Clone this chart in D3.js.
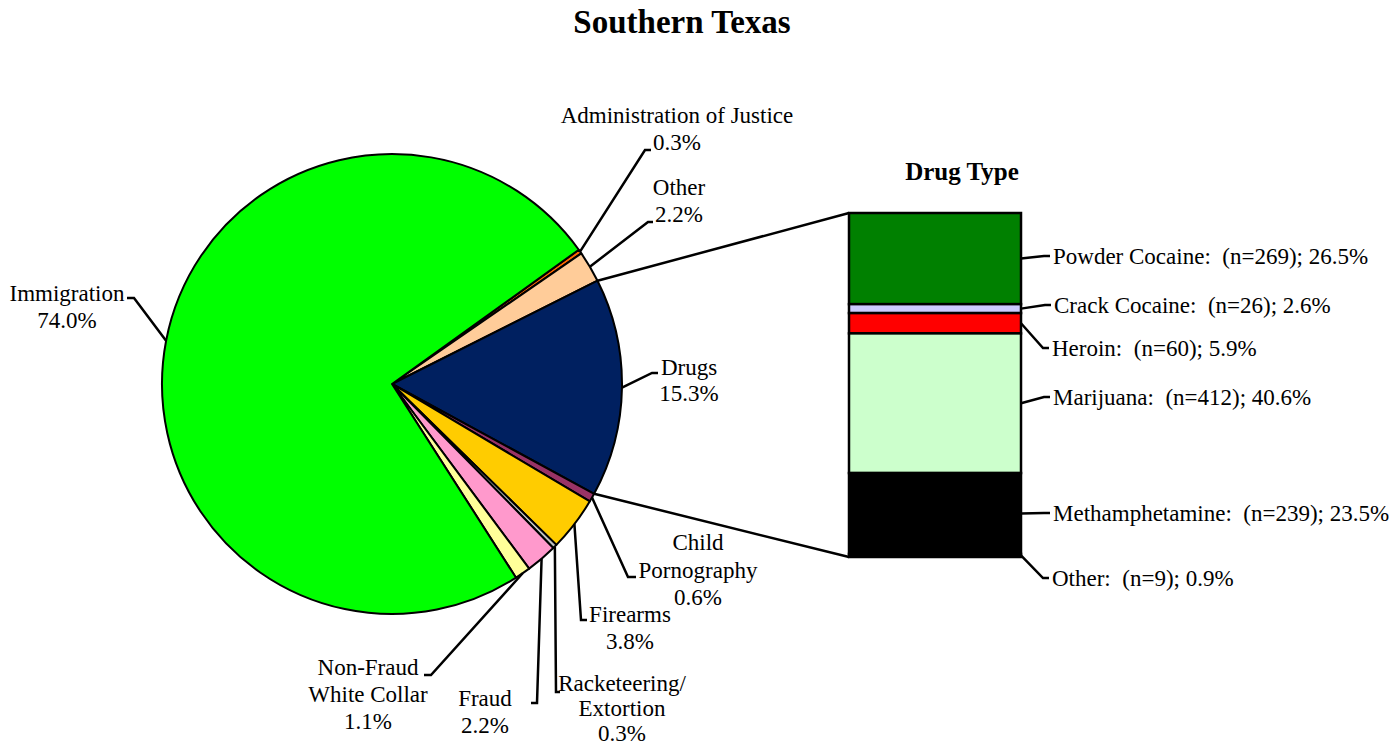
<!DOCTYPE html>
<html>
<head>
<meta charset="utf-8">
<script src="https://cdn.jsdelivr.net/npm/d3@7"></script>
<style>
  body { margin: 0; background: #fff; }
  text { font-family: "Liberation Serif", "Times New Roman", serif; white-space: pre; }
</style>
</head>
<body>
<div id="chart"></div>
<script>
/* ------------------------- Data ------------------------- */
var offenses = ["Administration of Justice", "Other", "Drugs", "Child Pornography",
                "Firearms", "Racketeering/Extortion", "Fraud", "Non-Fraud White Collar", "Immigration"];
var offensePct = [0.3, 2.2, 15.3, 0.6, 3.8, 0.3, 2.2, 1.1, 74.0];
var offenseLines = [["Administration of Justice"], ["Other"], ["Drugs"], ["Child", "Pornography"],
                    ["Firearms"], ["Racketeering/", "Extortion"], ["Fraud"], ["Non-Fraud", "White Collar"], ["Immigration"]];
var offenseColors = ["#FF6600", "#FFCC99", "#002060", "#993366", "#FFCC00", "#C0C0C0", "#FF99CC", "#FFFF99", "#00FF00"];

var drugs = ["Powder Cocaine", "Crack Cocaine", "Heroin", "Marijuana", "Methamphetamine", "Other"];
var drugCounts = [269, 26, 60, 412, 239, 9];
var drugPct = [26.5, 2.6, 5.9, 40.6, 23.5, 0.9];
var drugColors = ["#008000", "#CCCCFF", "#FF0000", "#CCFFCC", "#000000", "#000000"];

/* ------------------------- Layout ------------------------- */
var width = 1394, height = 749,
    cx = 392, cy = 384, radius = 230,
    startDeg = 54.3,
    fontSize = 23;

/* label elbows: [elbowX, elbowY, tickX, textCenterX, firstLineY, lineGap] */
var pieLabelPos = [
    [645, 150, 651, 677, 115, 27],
    [648, 222, 653, 679, 187, 27],
    [652, 373, 658, 689, 367, 26],
    [628, 577, 636, 698, 542, 27.5],
    [581, 620, 587, 630, 614, 27],
    [556, 692, 560, 622, 683, 25],
    [537, 703, 531, 485, 698, 27],
    [431, 675, 424, 368, 667, 27],
    [134, 298, 127, 67, 293, 27]
];

var svg = d3.select("#chart").append("svg")
    .attr("width", width)
    .attr("height", height);

/* Title */
svg.append("text")
    .attr("x", 682).attr("y", 33)
    .attr("text-anchor", "middle")
    .attr("font-size", 33)
    .attr("font-weight", "bold")
    .text("Southern Texas");

/* ------------------------- Pie ------------------------- */
var pie = d3.pie().sort(null)
    .startAngle(startDeg * Math.PI / 180)
    .endAngle(startDeg * Math.PI / 180 + 2 * Math.PI);
var arcs = pie(offensePct);
var arc = d3.arc().innerRadius(0).outerRadius(radius);

var g = svg.append("g").attr("transform", "translate(" + cx + "," + cy + ")");

g.selectAll("path.slice")
    .data(arcs)
    .enter().append("path")
    .attr("class", "slice")
    .attr("d", arc)
    .attr("fill", function(d, i) { return offenseColors[i]; })
    .attr("stroke", "#000")
    .attr("stroke-width", 2)
    .attr("stroke-linejoin", "round");

function onArc(a, r) {
    return [cx + r * Math.sin(a), cy - r * Math.cos(a)];
}

/* Leader lines for pie */
var lbl = svg.append("g");
arcs.forEach(function(d, i) {
    var mid = (d.startAngle + d.endAngle) / 2,
        p = onArc(mid, radius),
        pos = pieLabelPos[i];
    lbl.append("polyline")
        .attr("points", [p, [pos[0], pos[1]], [pos[2], pos[1]]].map(function(q) { return q.join(","); }).join(" "))
        .attr("fill", "none")
        .attr("stroke", "#000")
        .attr("stroke-width", 2.5);
    var lines = offenseLines[i].concat([offensePct[i].toFixed(1) + "%"]);
    lines.forEach(function(t, j) {
        lbl.append("text")
            .attr("x", pos[3])
            .attr("y", pos[4] + j * pos[5])
            .attr("dy", "0.35em")
            .attr("text-anchor", "middle")
            .attr("font-size", fontSize)
            .text(t);
    });
});

/* ------------------------- Drug bar ------------------------- */
var barX = 849, barW = 172;
var cum = [0];
drugPct.forEach(function(v, i) { cum.push(cum[i] + v); });
var y = d3.scaleLinear().domain([0, d3.sum(drugPct)]).range([213, 557]);

/* Connector lines between the drugs slice and the bar */
var drugArc = arcs[2];
var pTop = onArc(drugArc.startAngle, radius),
    pBot = onArc(drugArc.endAngle, radius);
svg.append("line")
    .attr("x1", pTop[0]).attr("y1", pTop[1])
    .attr("x2", barX).attr("y2", y(0))
    .attr("stroke", "#000").attr("stroke-width", 2.5);
svg.append("line")
    .attr("x1", pBot[0]).attr("y1", pBot[1])
    .attr("x2", barX).attr("y2", y(d3.sum(drugPct)))
    .attr("stroke", "#000").attr("stroke-width", 2.5);

svg.append("g").selectAll("rect")
    .data(drugPct)
    .enter().append("rect")
    .attr("x", barX)
    .attr("y", function(d, i) { return y(cum[i]); })
    .attr("width", barW)
    .attr("height", function(d, i) { return y(cum[i + 1]) - y(cum[i]); })
    .attr("fill", function(d, i) { return drugColors[i]; })
    .attr("stroke", "#000")
    .attr("stroke-width", 2.5);

svg.append("text")
    .attr("x", 962).attr("y", 180)
    .attr("text-anchor", "middle")
    .attr("font-size", 25)
    .attr("font-weight", "bold")
    .text("Drug Type");

/* Drug labels: [elbowX, elbowY] */
var drugLabelPos = [[1044, 256], [1045, 305], [1043, 348], [1044, 397], [1044, 513], [1043, 578]];
var dl = svg.append("g");
drugPct.forEach(function(v, i) {
    var ym = (y(cum[i]) + y(cum[i + 1])) / 2,
        pos = drugLabelPos[i];
    dl.append("polyline")
        .attr("points", [[barX + barW, ym], pos, [pos[0] + 6, pos[1]]].map(function(q) { return q.join(","); }).join(" "))
        .attr("fill", "none")
        .attr("stroke", "#000")
        .attr("stroke-width", 2.5);
    dl.append("text")
        .attr("x", pos[0] + 9)
        .attr("y", pos[1])
        .attr("dy", "0.35em")
        .attr("font-size", fontSize)
        .text(drugs[i] + ":  (n=" + drugCounts[i] + "); " + v.toFixed(1) + "%");
});
</script>
</body>
</html>
